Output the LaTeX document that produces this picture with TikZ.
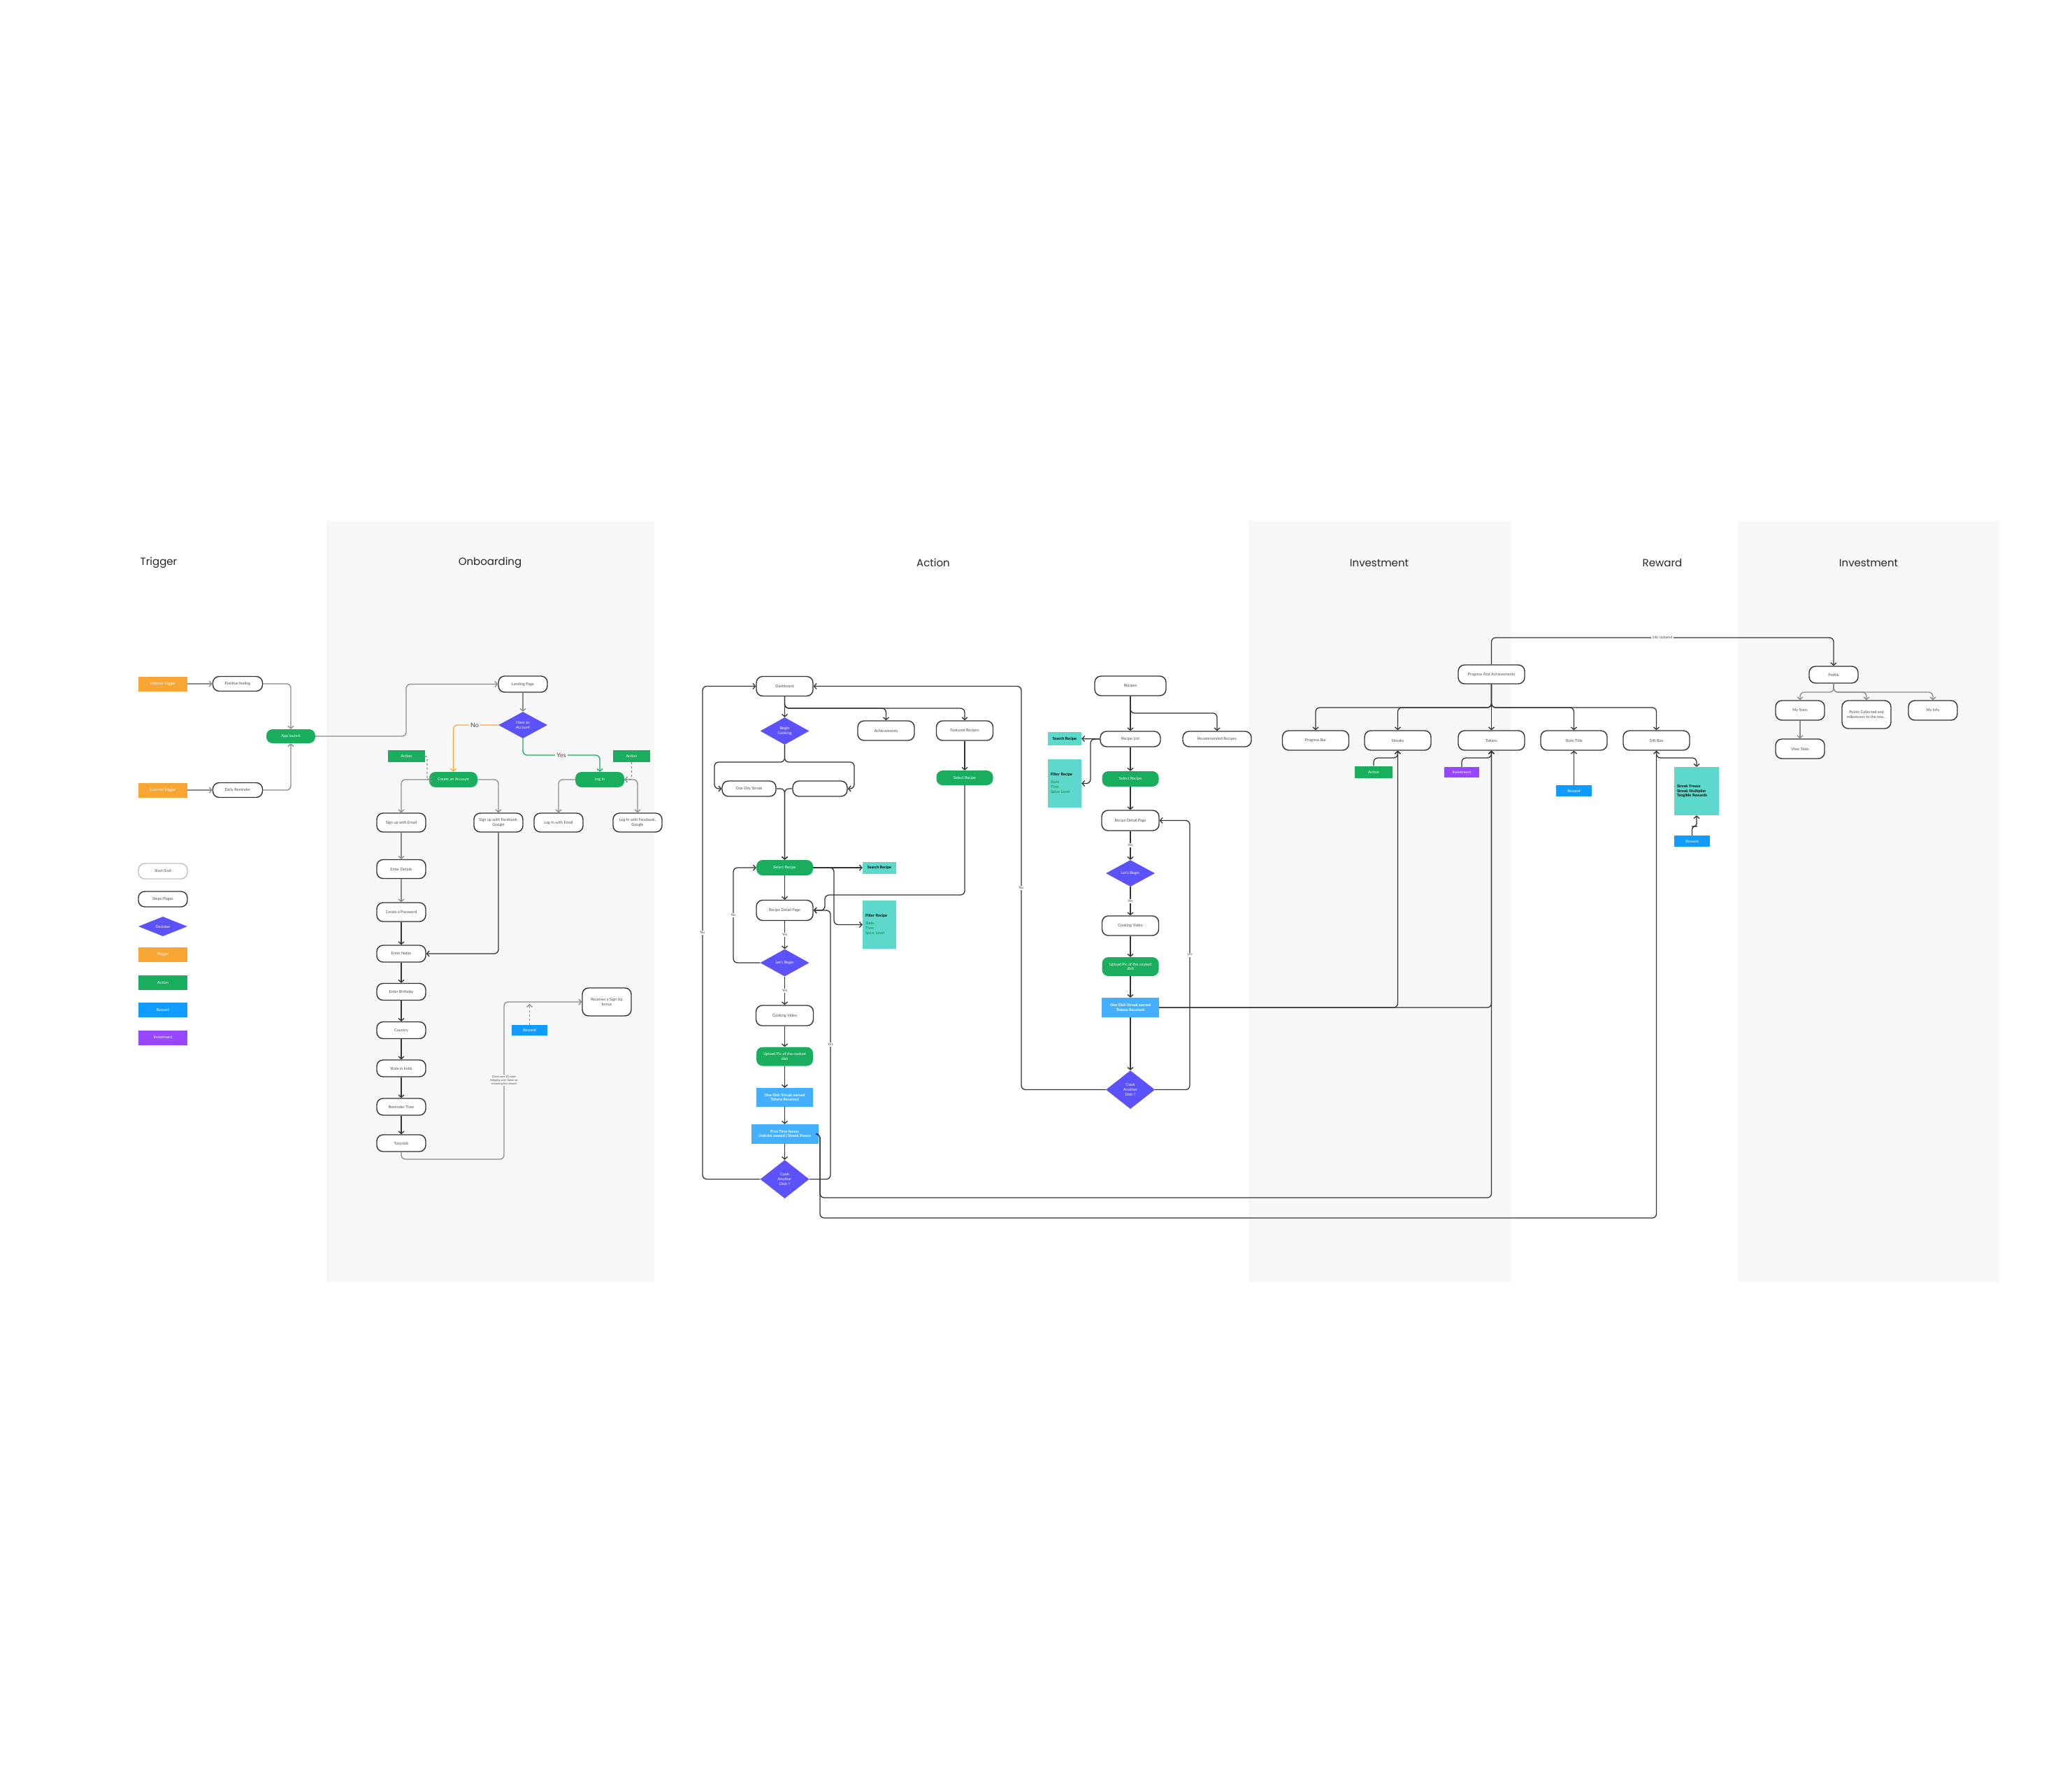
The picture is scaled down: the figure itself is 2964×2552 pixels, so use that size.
\documentclass[tikz,border=0pt]{standalone}
\usepackage{fontspec}
\setmainfont{Lato}
\newfontfamily\headfont{Poppins}
\usetikzlibrary{shapes.geometric,arrows.meta}
\definecolor{panel}{HTML}{F7F7F7}
\definecolor{dark}{HTML}{333333}
\definecolor{lgray}{HTML}{8A8A8A}
\definecolor{txt}{HTML}{4A4A4A}
\definecolor{trigC}{HTML}{F9A533}
\definecolor{actC}{HTML}{18AE5E}
\definecolor{decC}{HTML}{5B52FB}
\definecolor{rewC}{HTML}{109CFF}
\definecolor{invC}{HTML}{9747FF}
\definecolor{tealC}{HTML}{5CD9CB}
\definecolor{lblue}{HTML}{45AFFF}
\definecolor{txtgreen}{HTML}{1E7F3F}
\newcommand\mynodefont{\fontsize{5.5}{6.8}\selectfont}
\newcommand\mytinyfont{\fontsize{4}{5}\selectfont}
\tikzset{
 base/.style={inner sep=1pt, align=center, font=\mynodefont},
 stepbox/.style={base, draw=dark, line width=1.4pt, rounded corners=9pt, fill=white, text=txt, minimum width=70pt, minimum height=24pt},
 actbox/.style={base, fill=actC, rounded corners=9pt, text=white, minimum width=70pt, minimum height=22pt},
 rewbox/.style={base, fill=lblue, text=white, font=\mynodefont\bfseries, minimum width=81pt, minimum height=27pt},
 decbox/.style={base, diamond, fill=decC, text=white, minimum width=70pt, minimum height=38pt, inner sep=0pt},
 tagbox/.style={base, text=white, minimum width=52pt, minimum height=16pt},
 trigtag/.style={tagbox, fill=trigC},
 acttag/.style={tagbox, fill=actC},
 rewtag/.style={tagbox, fill=rewC},
 invtag/.style={tagbox, fill=invC},
 tealbox/.style={base, fill=tealC, text=black, font=\mynodefont\bfseries},
 conn/.style={draw=dark, line width=1.3pt, rounded corners=6pt, -{Straight Barb[length=3.5pt,width=8pt]}},
 gconn/.style={conn, draw=lgray},
 head/.style={font=\headfont\fontsize{15}{18}\selectfont, text=black!85},
 lbl/.style={fill=white, align=center, font=\fontsize{5}{6}\selectfont, text=txt, inner sep=1.5pt},
 plbl/.style={lbl, fill=panel},
 biglbl/.style={fill=panel, font=\fontsize{9}{10}\selectfont, text=txt, inner sep=2pt}
}
\begin{document}
\begin{tikzpicture}[x=1pt,y=-1pt]
\useasboundingbox[fill=white] (0,0) rectangle (2964,2552);
% panels
\fill[panel] (467,745) rectangle (936,1834);
\fill[panel] (1786,745) rectangle (2161,1834);
\fill[panel] (2486,745) rectangle (2860,1834);
% headers
\node[head] (h1) at (227,805) {Trigger};
\node[head] (h2) at (701,805) {Onboarding};
\node[head] (h3) at (1335,805) {Action};
\node[head] (h4) at (1973,805) {Investment};
\node[head] (h5) at (2378,805) {Reward};
\node[head] (h6) at (2673,805) {Investment};

% ---------------- Trigger
\node[trigtag, minimum width=70pt, minimum height=21pt] (it) at (233,978) {Internal Trigger};
\node[stepbox, minimum width=71pt, minimum height=21pt] (pf) at (340,978) {Positive feeling};
\node[actbox, minimum height=20pt] (al) at (416,1053) {App launch};
\node[trigtag, minimum width=70pt, minimum height=21pt] (et) at (233,1130) {External Trigger};
\node[stepbox, minimum width=71pt, minimum height=21pt] (dr) at (340,1130) {Daily Reminder};
\draw[gconn] (it) -- (pf);
\draw[gconn] (et) -- (dr);
\draw[gconn] (pf.east) -| (al.north);
\draw[gconn] (dr.east) -| (al.south);

% legend
\node[stepbox, draw=black!25, minimum height=22pt] (lg1) at (233,1246) {Start/End};
\node[stepbox, minimum height=22pt] (lg2) at (233,1286) {Steps/Pages};
\node[decbox, minimum height=28pt] (lg3) at (233,1325) {Decision};
\node[trigtag, minimum width=70pt, minimum height=21pt] (lg4) at (233,1365) {Trigger};
\node[acttag, minimum width=70pt, minimum height=21pt] (lg5) at (233,1405) {Action};
\node[rewtag, minimum width=70pt, minimum height=21pt] (lg6) at (233,1444) {Reward};
\node[invtag, minimum width=70pt, minimum height=21pt] (lg7) at (233,1484) {Investment};

% ---------------- Onboarding
\node[stepbox, minimum height=23pt] (lp) at (748,978.5) {Landing Page};
\node[decbox] (hav) at (748,1037) {Have an\\Account};
\draw[gconn] (al.east) -| (581,1010) |- (lp.west);
\draw[gconn] (lp) -- (hav);
\node[actbox, minimum width=69pt] (ca) at (648.5,1115) {Create an Account};
\node[actbox] (li) at (858,1115) {Log In};
\draw[conn, draw=trigC] (hav.west) -| (ca.north);
\node[biglbl] (nolbl) at (679,1037) {No};
\draw[conn, draw=actC] (hav.south) |- (800,1080) -| (li.north);
\node[biglbl] (yeslbl) at (803,1080) {Yes};
\node[acttag, minimum width=53pt, minimum height=17pt] (oa1) at (581.5,1081.5) {Action};
\node[acttag, minimum width=53pt, minimum height=17pt] (oa2) at (903.5,1081.5) {Action};
\node[stepbox, minimum height=27pt] (su) at (574,1176.5) {Sign up with Email};
\node[stepbox, minimum height=27pt] (sf) at (713,1176.5) {Sign up with Facebook,\\Google};
\node[stepbox, minimum height=27pt] (le) at (799,1176.5) {Log In with Email};
\node[stepbox, minimum height=27pt] (lf) at (912,1176.5) {Log In with Facebook,\\Google};
\draw[gconn] (ca.west) -| (su.north);
\draw[gconn] (ca.east) -| (sf.north);
\draw[gconn] (li.west) -| (le.north);
\draw[gconn] (li.east) -| (lf.north);
\draw[gconn, dashed, rounded corners=3pt] (oa1.east) -| (611,1110) |- (ca.west);
\draw[gconn, dashed, rounded corners=3pt] (oa2.south) |- (li.east);
\node[stepbox, minimum height=27pt] (ed) at (574,1243) {Enter Details};
\node[stepbox, minimum height=27pt] (cp) at (574,1304.5) {Create a Password};
\node[stepbox] (en) at (574,1364) {Enter Name};
\node[stepbox] (eb) at (574,1418.5) {Enter Birthday};
\node[stepbox] (co) at (574,1473.5) {Country};
\node[stepbox] (si) at (574,1528) {State in India};
\node[stepbox] (rt) at (574,1583) {Reminder Time};
\node[stepbox] (tu) at (574,1635) {Tutorials};
\draw[gconn] (su) -- (ed);
\draw[gconn] (ed) -- (cp);
\draw[conn] (cp) -- (en);
\draw[conn] (en) -- (eb);
\draw[conn] (eb) -- (co);
\draw[conn] (co) -- (si);
\draw[conn] (si) -- (rt);
\draw[conn] (rt) -- (tu);
\draw[conn] (sf.south) |- (en.east);
\node[stepbox, minimum height=40pt] (sb) at (868,1433) {Receives a Sign Up\\bonus};
\draw[gconn] (tu.south) |- (721,1658) |- (sb.west);
\node[plbl, font=\mytinyfont] (giv) at (721,1545) {Gives user 20 coins\\bringing user closer to\\revealing the reward};
\node[rewtag, minimum width=51pt, minimum height=15pt] (rw1) at (757.5,1473.5) {Reward};
\coordinate (rw1end) at (757.5,1436);
\draw[gconn, dashed] (rw1.north) -- (rw1end);

% ---------------- Action (left flow)
\node[stepbox, minimum width=81pt, minimum height=28pt] (db) at (1122.5,981.5) {Dashboard};
\node[decbox, minimum height=39pt] (bc) at (1122.5,1045.5) {Begin\\Cooking};
\node[stepbox, minimum width=81pt, minimum height=28pt] (ach) at (1267.5,1045) {Achievements};
\node[stepbox, minimum width=81pt, minimum height=28pt] (fr) at (1380,1045) {Featured Recipes};
\node[actbox, minimum width=81pt, minimum height=21pt] (fsr) at (1380,1112.5) {Select Recipe};
\draw[conn] (db) -- (bc);
\draw[conn] (db.south) |- (1200,1013) -| (ach.north);
\draw[conn] (db.south) |- (1300,1013) -| (fr.north);
\draw[conn] (fr) -- (fsr);
\node[stepbox, minimum width=77pt, minimum height=22pt] (ods) at (1071.5,1128) {One Day Streak};
\node[stepbox, minimum width=78pt, minimum height=22pt] (emp) at (1173,1128) {};
\draw[conn] (bc.south) |- (1060,1090) -| (1022,1112) |- (ods.west);
\draw[conn] (bc.south) |- (1185,1090) -| (1222,1112) |- (emp.east);
\node[actbox, minimum width=81pt, minimum height=22pt] (sr) at (1122.5,1241) {Select Recipe};
\draw[conn] (ods.east) -| (sr.north);
\draw[conn] (emp.west) -| (sr.north);
\node[tealbox, minimum width=48pt, minimum height=17pt] (srch1) at (1258,1241) {Search Recipe};
\node[tealbox, minimum width=48pt, minimum height=69pt, text width=40pt, align=left] (fil1) at (1258,1322.5) {Filter Recipe\\[4pt]{\mdseries\color{txtgreen}State\\Time\\Spice Level}};
\draw[conn] (sr.east) -- (srch1.west);
\draw[conn] (sr.east) -| (1193,1300) |- (fil1.west);
\node[stepbox, minimum width=81pt, minimum height=29pt] (rdp) at (1122.5,1302) {Recipe Detail Page};
\draw[conn] (sr) -- (rdp);
\node[decbox, minimum height=39pt] (lb) at (1122.5,1377) {Let's Begin};
\draw[conn] (rdp) -- (lb);
\node[lbl] (y1) at (1122.5,1337) {Yes};
\draw[conn] (lb.west) -| (1049,1300) |- (sr.west);
\node[lbl] (n1) at (1049,1309) {No};
\node[stepbox, minimum width=82pt, minimum height=29pt] (cv) at (1122.5,1452.5) {Cooking Video};
\draw[conn] (lb) -- (cv);
\node[lbl] (y2) at (1122.5,1417) {Yes};
\node[actbox, minimum width=81pt, minimum height=27pt] (up) at (1122.5,1511) {Upload Pic of the cooked\\dish};
\node[rewbox] (ods2) at (1122.5,1569.5) {One Dish Streak earned\\Tokens Received};
\node[rewbox, minimum width=96pt, minimum height=28pt] (ftb) at (1122.5,1622) {First Time bonus\\Unlocks reward | Streak Freeze};
\node[decbox, minimum height=55pt] (cad) at (1122.5,1686.5) {Cook\\Another\\Dish ?};
\draw[conn] (cv) -- (up);
\draw[conn] (up) -- (ods2);
\draw[conn] (ods2) -- (ftb);
\draw[conn] (ftb) -- (cad);
\draw[conn] (cad.west) -| (1005,1300) |- (db.west);
\node[lbl] (n2) at (1005,1334) {No};
\draw[conn] (cad.east) -| (1188,1400) |- (rdp.east);
\node[lbl] (y3) at (1188,1494) {Yes};
\draw[conn] (fsr.south) |- (1250,1280) -| (1180,1292) |- (rdp.east);

% ---------------- Action (recipes flow)
\node[stepbox, minimum width=102pt, minimum height=28pt] (rec) at (1617,981) {Recipes};
\node[stepbox, minimum width=86pt, minimum height=22pt] (rl) at (1617,1057) {Recipe List};
\node[stepbox, minimum width=98pt, minimum height=22pt] (rr) at (1741,1057) {Recommended Recipes};
\draw[conn] (rec) -- (rl);
\draw[conn] (rec.south) |- (1680,1020) -| (rr.north);
\node[tealbox, minimum width=48pt, minimum height=19pt] (srch2) at (1523,1056.5) {Search Recipe};
\node[tealbox, minimum width=48pt, minimum height=69pt, text width=40pt, align=left] (fil2) at (1523,1120.5) {Filter Recipe\\[4pt]{\mdseries\color{txtgreen}State\\Time\\Spice Level}};
\draw[conn] (rl.west) -- (srch2.east);
\draw[conn] (rl.west) -| (1560,1090) |- (fil2.east);
\node[actbox, minimum width=81pt, minimum height=22pt] (fsr2) at (1617,1114) {Select Recipe};
\node[stepbox, minimum width=82pt, minimum height=29pt] (rdp2) at (1617,1173.5) {Recipe Detail Page};
\node[decbox] (lb2) at (1617,1249) {Let's Begin};
\node[stepbox, minimum width=81pt, minimum height=28pt] (cv2) at (1617,1324) {Cooking Video};
\node[actbox, minimum width=81pt, minimum height=27pt] (up2) at (1617,1382.5) {Upload Pic of the cooked\\dish};
\node[rewbox, minimum width=82pt, minimum height=28pt] (ods3) at (1617,1441) {One Dish Streak earned\\Tokens Received};
\node[decbox, minimum height=55pt] (cad2) at (1617,1558.5) {Cook\\Another\\Dish ?};
\draw[conn] (rl) -- (fsr2);
\draw[conn] (fsr2) -- (rdp2);
\draw[conn] (rdp2) -- (lb2);
\node[lbl] (y4) at (1617,1209) {Yes};
\draw[conn] (lb2) -- (cv2);
\node[lbl] (y5) at (1617,1289) {Yes};
\draw[conn] (cv2) -- (up2);
\draw[conn] (up2) -- (ods3);
\draw[conn] (ods3) -- (cad2);
\draw[conn] (cad2.east) -| (1702,1300) |- (rdp2.east);
\node[lbl] (y6) at (1702,1366) {yes};
\draw[conn] (cad2.west) -| (1461,1200) |- (db.east);
\node[lbl] (n3) at (1461,1270) {No};

% ---------------- Investment / Reward
\node[stepbox, minimum width=95pt, minimum height=27pt] (pa) at (2133.5,964.5) {Progress And Achievements};
\node[stepbox, minimum width=95pt, minimum height=28pt] (pb) at (1882,1059) {Progress Bar};
\node[stepbox, minimum width=95pt, minimum height=28pt] (st) at (1999.5,1059) {Streaks};
\node[stepbox, minimum width=95pt, minimum height=28pt] (tk) at (2133.5,1059) {Tokens};
\node[stepbox, minimum width=95pt, minimum height=28pt] (stt) at (2251.5,1059) {State Title};
\node[stepbox, minimum width=95pt, minimum height=28pt] (gb) at (2369.5,1059) {Gift Box};
\draw[conn] (pa) -- (tk);
\draw[conn] (pa.south) |- (1950,1012) -| (pb.north);
\draw[conn] (pa.south) |- (2060,1012) -| (st.north);
\draw[conn] (pa.south) |- (2200,1012) -| (stt.north);
\draw[conn] (pa.south) |- (2300,1012) -| (gb.north);
\node[acttag, minimum width=54pt, minimum height=17pt] (a3) at (1965,1104) {Action};
\node[invtag, minimum width=50pt, minimum height=15pt] (i3) at (2091,1104.5) {Investment};
\node[rewtag, minimum width=51pt, minimum height=16pt] (r3) at (2251.5,1131) {Reward};
\draw[conn] (a3.north) |- (1985,1084) -| (st.south);
\draw[conn] (i3.north) |- (2110,1084) -| (tk.south);
\draw[conn] (r3) -- (stt);
\node[tealbox, minimum width=64pt, minimum height=69pt, text width=56pt, align=left] (t3) at (2427,1131.5) {Streak Freeze\\Streak Multiplier\\Tangible Rewards};
\node[rewtag, minimum width=51pt, minimum height=16pt] (r4) at (2420.5,1203) {Reward};
\draw[conn] (gb.south) |- (2400,1084) -| (t3.north);
\draw[conn, rounded corners=4pt] (r4.north) |- (2424,1182) -| (t3.south);
% long connectors
\draw[conn] (ods3.east) -| (tk.south);
\draw[conn] (ods3.east) -| (st.south);
\draw[conn] (ftb.east) -| (1173,1700) |- (2050,1713) -| (tk.south);
\draw[conn] (ftb.east) -| (1173,1720) |- (2300,1742) -| (gb.south);
% info updated
\node[stepbox] (prof) at (2623,965) {Profile};
\draw[conn] (pa.north) |- (2400,912) -| (prof.north);
\node[lbl] (iu) at (2378,912) {Info Updated};

% ---------------- Profile
\node[stepbox, minimum height=28pt] (ms) at (2575,1016) {My Stats};
\node[stepbox, minimum height=40pt] (pc) at (2670,1022) {Points Collected and\\milestones to the rew...};
\node[stepbox, minimum height=28pt] (mi) at (2765,1016) {My Info};
\node[stepbox, minimum height=28pt] (vs) at (2575,1071) {View Stats};
\draw[gconn] (prof.south) |- (2600,990) -| (ms.north);
\draw[gconn] (prof.south) |- (2650,990) -| (pc.north);
\draw[gconn] (prof.south) |- (2700,990) -| (mi.north);
\draw[gconn] (ms) -- (vs);
\end{tikzpicture}
\end{document}
